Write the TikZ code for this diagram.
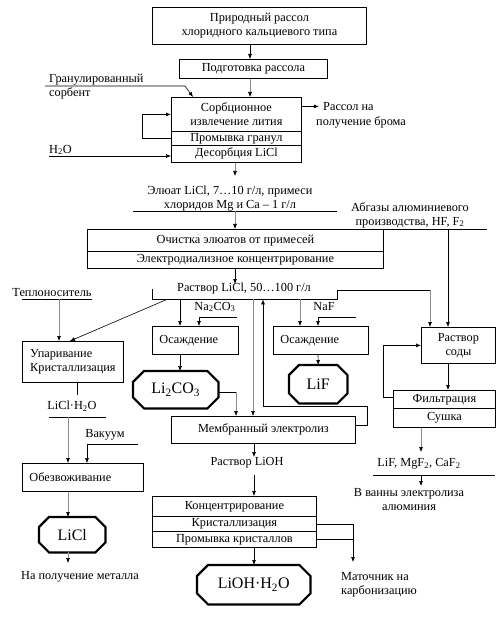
\documentclass[tikz,border=0pt]{standalone}
\usepackage{fontspec}
\setmainfont{Liberation Serif}
\usetikzlibrary{arrows.meta}
\newcommand{\octpath}[2]{%
  \draw[octline] ([xshift=#2]#1.north west) -- ([xshift=-#2]#1.north east)
    -- ([yshift=-#2]#1.north east) -- ([yshift=#2]#1.south east)
    -- ([xshift=-#2]#1.south east) -- ([xshift=#2]#1.south west)
    -- ([yshift=#2]#1.south west) -- ([yshift=-#2]#1.north west) -- cycle;}
\begin{document}
\begin{tikzpicture}[x=1pt,y=-1pt,
  every node/.style={inner sep=0pt},
  txt/.style={font=\fontsize{12.3}{14}\selectfont, align=center},
  box/.style={draw, line width=0.8pt, anchor=north west, font=\fontsize{12.3}{14}\selectfont, align=center},
  lbox/.style={box, align=left},
  oct/.style={anchor=north west, font=\fontsize{16}{18}\selectfont},
  octline/.style={line width=2.2pt, line join=miter},
  ln/.style={line width=0.6pt},
  gln/.style={line width=0.6pt, draw=black!45},
  ar/.style={ln, -{Latex[length=5pt,width=4pt,color=black]}},
  gar/.style={gln, -{Latex[length=5pt,width=4pt,color=black]}},
]
\useasboundingbox[fill=white] (0,0) rectangle (503,617);

% ---------- boxes ----------
\node[box, minimum width=214pt, minimum height=37pt] (ntop) at (152,7) {Природный рассол\\хлоридного кальциевого типа};
\node[box, minimum width=148pt, minimum height=19pt] (nprep) at (179,59) {Подготовка рассола};
\node[box, minimum width=130pt, minimum height=34pt] (nsorba) at (171,97) {Сорбционное\\извлечение лития};
\node[box, minimum width=130pt, minimum height=14pt] (nsorbb) at (171,131) {Промывка гранул};
\node[box, minimum width=130pt, minimum height=17pt] (nsorbc) at (171,145) {Десорбция LiCl};
\node[box, minimum width=296pt, minimum height=22pt] (npura) at (87,229) {Очистка элюатов от примесей};
\node[box, minimum width=296pt, minimum height=17pt] (npurb) at (87,251) {Электродиализное концентрирование};
\node[lbox, minimum width=101pt, minimum height=41pt] (nup) at (22,341) {Упаривание\\Кристаллизация};
\node[lbox, minimum height=28pt, inner xsep=7pt, text width=72pt] (nos1) at (152,326) {Осаждение};
\node[lbox, minimum height=28pt, inner xsep=7pt, text width=81pt] (nos2) at (273,326) {Осаждение};
\node[box, minimum width=74pt, minimum height=36pt] (nsoda) at (421,327) {Раствор\\соды};
\node[box, minimum width=102pt, minimum height=18pt] (nfilta) at (393,390) {Фильтрация};
\node[box, minimum width=102pt, minimum height=19pt] (nfiltb) at (393,408) {Сушка};
\node[box, minimum width=184pt, minimum height=27pt] (nmem) at (171,416) {Мембранный электролиз};
\node[lbox, minimum height=28pt, inner xsep=7pt, text width=107pt] (ndehy) at (22,463) {Обезвоживание};
\node[box, minimum width=164pt, minimum height=20pt] (nconca) at (152,496) {Концентрирование};
\node[box, minimum width=164pt, minimum height=15pt] (nconcb) at (152,516) {Кристаллизация};
\node[box, minimum width=164pt, minimum height=16pt] (nconcc) at (152,531) {Промывка кристаллов};

% ---------- octagons ----------
\node[oct, minimum width=85pt, minimum height=37pt] (nli2co3) at (133,371) {Li\textsubscript{2}CO\textsubscript{3}};
\octpath{nli2co3}{11pt}
\node[oct, minimum width=58pt, minimum height=38pt] (nlif) at (289,365) {LiF};
\octpath{nlif}{10pt}
\node[oct, minimum width=66pt, minimum height=35pt] (nlicl) at (39,517) {LiCl};
\octpath{nlicl}{10pt}
\node[oct, minimum width=113pt, minimum height=39pt] (nlioh) at (197,565) {LiOH·H\textsubscript{2}O};
\octpath{nlioh}{11pt}

% ---------- free texts ----------
\node[txt, anchor=west, align=left] (tgs) at (49,86.5) {Гранулированный\\сорбент};
\node[txt, anchor=west] (th2o) at (49,150) {H\textsubscript{2}O};
\node[txt, anchor=west] (trb1) at (323,107) {Рассол на};
\node[txt, anchor=west] (trb2) at (316,122) {получение брома};
\node[txt] (tel) at (230,199) {Элюат LiCl, 7…10 г/л, примеси\\хлоридов Mg и Ca – 1 г/л};
\node[txt] (tabg) at (410,215) {Абгазы алюминиевого\\производства, HF, F\textsubscript{2}};
\node[txt] (trlicl) at (244,289) {Раствор LiCl, 50…100 г/л};
\node[txt] (tteplo) at (52,293) {Теплоноситель};
\node[txt] (tna2) at (215,307) {Na\textsubscript{2}CO\textsubscript{3}};
\node[txt] (tnaf) at (324,307) {NaF};
\node[txt] (tliclh) at (72,406) {LiCl·H\textsubscript{2}O};
\node[txt] (tvac) at (105,435) {Вакуум};
\node[txt] (tlioh) at (247,463) {Раствор LiOH};
\node[txt] (tlifs) at (419,464) {LiF, MgF\textsubscript{2}, CaF\textsubscript{2}};
\node[txt] (tbath) at (409,500) {В ванны электролиза\\алюминия};
\node[txt] (tmetal) at (80,577) {На получение металла};
\node[txt, anchor=west, align=left] (tmat) at (341,584.5) {Маточник на\\карбонизацию};

% ---------- connectors ----------
\coordinate (cx250) at (250,0);
\draw[ar] (ntop.south -| cx250) -- (nprep.north -| cx250);
\draw[gar] (nprep.south -| cx250) -- (nsorba.north -| cx250);

\coordinate (cgs) at (45,86);
\coordinate (cgs2) at (185,86);
\draw[ar] (cgs) -- (cgs2) -- ([xshift=22pt]nsorba.north west);

\draw[ar] (nsorbb.west) -- ++(-29,0) |- (nsorba.west);

\coordinate (ch2o) at (49,156);
\draw[ar] (ch2o) -- (ch2o -| nsorbc.west);

\draw[ar] ([yshift=8pt]nsorba.east) -- ++(17,0) coordinate (cbr);

\coordinate (cel1) at (235,176);
\draw[gar] (nsorbc.south -| cel1) -- (cel1);
\coordinate (cel2a) at (133,211);
\coordinate (cel2b) at (337,211);
\draw[ln] (cel2a) -- (cel2b);
\draw[gar] (cel1 |- cel2a) -- (npura.north -| cel1);

\coordinate (cbrk) at (235,284);
\draw[ar] (npurb.south -| cbrk) -- (cbrk);

% bracket under "Раствор LiCl"
\node[anchor=north west, minimum width=185pt, minimum height=10pt] (nbr) at (152,289) {};
\coordinate (c430) at (430,290);
\draw[ln] (nbr.north west) -- (nbr.south west) -- (nbr.south east) -- (nbr.south east |- c430) -- (c430);
\draw[gar] (c430) -- (nsoda.north -| c430);

% heat carrier
\coordinate (ct1) at (22,299);
\coordinate (ct2) at (92,299);
\draw[ln] (ct1) -- (ct2);
\coordinate (c59) at (59,299);
\draw[gar] (c59) -- (nup.north -| c59);
\draw[ar] ([xshift=15pt]nbr.south west) -- ([xshift=48pt]nup.north west);

% carbonate branch
\draw[ar] ([xshift=28pt]nbr.south west) -- ([xshift=28pt]nos1.north west);
\coordinate (cna) at (237,317);
\draw[ar] (cna) -| ([xshift=47pt]nos1.north west);
\draw[ar] ([xshift=28pt]nos1.south west) -- ([xshift=47pt]nli2co3.north west);
\coordinate (cl2) at ([yshift=-2.5pt]nli2co3.east);
\coordinate (c236) at (236,0);
\draw[ln] (cl2) -- (cl2 -| c236);
\draw[gar] (cl2 -| c236) -- (nmem.north -| c236);

% membrane
\draw[gar] ([xshift=101pt]nbr.south west) -- ([xshift=82pt]nmem.north west);
\draw[ar] ([yshift=4.5pt]nmem.east) -- ++(11,0) -- ++(0,-19) -| ([xshift=111pt]nbr.south west);

% fluoride branch
\draw[gar] ([xshift=148pt]nbr.south west) -- ([xshift=27pt]nos2.north west);
\coordinate (cnaf) at (356,317);
\draw[ar] (cnaf) -| ([xshift=45pt]nos2.north west);
\draw[ar] ([xshift=45pt]nos2.south west) -- (nlif.north);

% off-gases
\coordinate (cab1) at (366,229);
\coordinate (cab2) at (487,229);
\draw[ln] (cab1) -- (cab2);
\coordinate (c448) at (448,229);
\draw[ar] (c448) -- (nsoda.north -| c448);
\draw[ar] (nsoda.south -| c448) -- (nfilta.north -| c448);
\draw[ar] ([yshift=2pt]nfilta.west) -- ++(-10,0) |- (nsoda.west);

\coordinate (c421) at (421,452);
\draw[gar] (nfiltb.south -| c421) -- (c421);
\coordinate (clf1) at (373,475);
\coordinate (clf2) at (495,475);
\draw[ln] (clf1) -- (clf2);
\coordinate (c421b) at (421,486);
\draw[ar] (c421b |- clf1) -- (c421b);

% LiCl branch
\coordinate (c77) at (77,395);
\draw[ln] (nup.south -| c77) -- (c77);
\coordinate (clc1) at (49,417);
\coordinate (clc2) at (106,417);
\draw[ln] (clc1) -- (clc2);
\coordinate (c68) at (68,417);
\draw[gar] (c68) -- (ndehy.north -| c68);
\coordinate (cvac) at (138,444);
\draw[ar] (cvac) -| ([xshift=65pt]ndehy.north west);
\draw[gar] (ndehy.south -| c68) -- (nlicl.north -| c68);
\coordinate (c68b) at (68,563);
\draw[gar] (nlicl.south -| c68b) -- (c68b);

% LiOH branch
\coordinate (c254) at (254,457);
\draw[ar] (nmem.south -| c254) -- (c254);
\coordinate (c254b) at (254,475);
\draw[ar] (c254b) -- (nconca.north -| c254b);
\draw[ar] (nconcc.south -| c254b) -- (nlioh.north -| c254b);
\coordinate (cmat) at (353,562);
\draw[ar] (nconcb.east) -| (cmat);
\draw[ln] (nconcc.east) -- (nconcc.east -| cmat);
\end{tikzpicture}
\end{document}
